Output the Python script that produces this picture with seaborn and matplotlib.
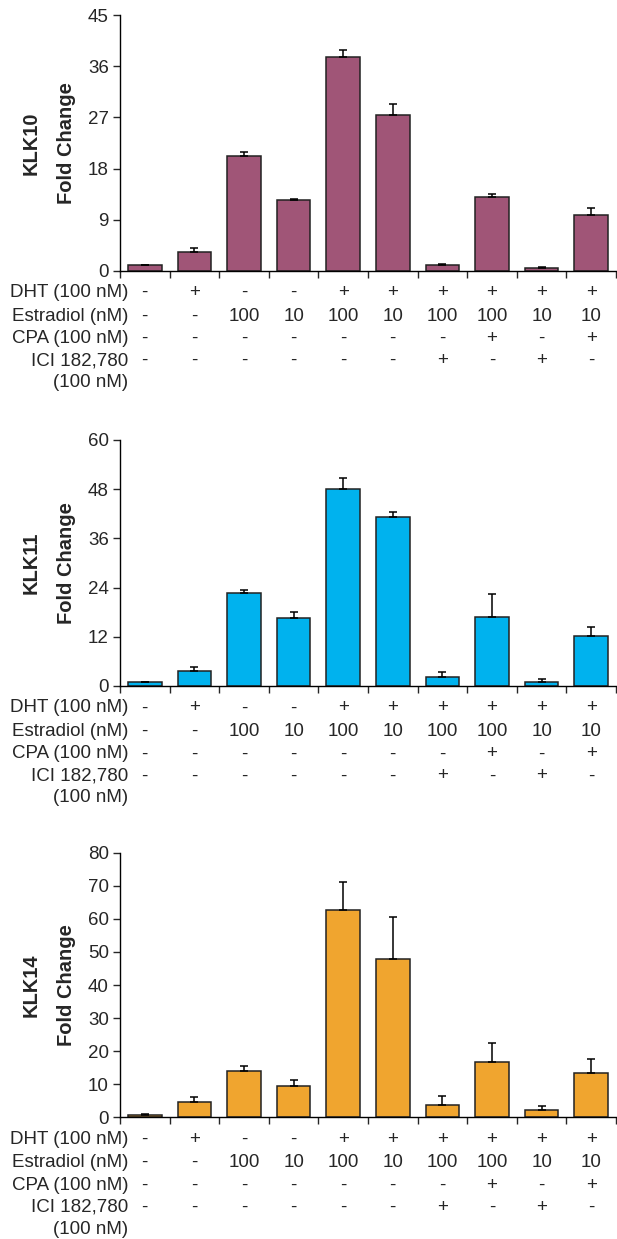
#!/usr/bin/env python3
"""KLK10 / KLK11 / KLK14 fold change under hormone treatments (three stacked bar panels)."""

import numpy as np
import matplotlib
matplotlib.use("Agg")
import matplotlib.pyplot as plt
import seaborn as sns

# treatment table (one column per bar)
conditions = [str(i) for i in range(1, 11)]
row_labels = ["DHT (100 nM)", "Estradiol (nM)", "CPA (100 nM)", "ICI 182,780", "(100 nM)"]
dht = ["-", "+", "-", "-", "+", "+", "+", "+", "+", "+"]
estradiol = ["-", "-", "100", "10", "100", "10", "100", "100", "10", "10"]
cpa = ["-", "-", "-", "-", "-", "-", "-", "+", "-", "+"]
ici = ["-", "-", "-", "-", "-", "-", "+", "-", "+", "-"]

# KLK10
klk10_mean = [1.0, 3.3, 20.2, 12.4, 37.6, 27.4, 1.0, 12.9, 0.5, 9.9]
klk10_err = [0.05, 0.7, 0.7, 0.2, 1.3, 2.0, 0.2, 0.7, 0.2, 1.2]
# KLK11
klk11_mean = [0.9, 3.7, 22.8, 16.5, 48.0, 41.2, 2.3, 16.9, 0.9, 12.3]
klk11_err = [0.05, 1.0, 0.5, 1.6, 2.8, 1.2, 1.0, 5.5, 0.7, 2.2]
# KLK14
klk14_mean = [0.8, 4.5, 14.1, 9.5, 62.6, 48.0, 3.7, 16.7, 2.2, 13.5]
klk14_err = [0.1, 1.5, 1.4, 1.8, 8.5, 12.6, 2.7, 5.9, 1.2, 4.1]

panels = [
    ("KLK10", klk10_mean, klk10_err, "#A05577", 45, 9),
    ("KLK11", klk11_mean, klk11_err, "#00B2EE", 60, 12),
    ("KLK14", klk14_mean, klk14_err, "#F0A52F", 80, 10),
]

# axes placement in pixels (figure is 617 x 1239)
W, H = 617, 1239
ax_left, ax_right = 120, 616
ax_spans = [(15.3, 270.7), (440, 686), (852.7, 1117.3)]  # (top px, bottom px)
row_offsets = [22, 45.5, 68, 90, 112]

sns.set_style("white")
plt.rcParams["font.family"] = ["Liberation Sans", "DejaVu Sans"]

fig = plt.figure(figsize=(W / 100, H / 100), dpi=100)

for (name, mean, err, color, ymax, ystep), (top, bottom) in zip(panels, ax_spans):
    ax = fig.add_axes([ax_left / W, 1 - bottom / H, (ax_right - ax_left) / W, (bottom - top) / H])
    sns.barplot(x=conditions, y=mean, color=color, saturation=1, width=0.68,
                edgecolor="#222222", linewidth=1.1, ax=ax, zorder=2)
    ax.errorbar(np.arange(len(mean)), mean, yerr=[np.zeros(len(err)), err], fmt="none",
                ecolor="black", elinewidth=1.1, capsize=3.2, capthick=1.1, zorder=3)

    ax.set_xlim(-0.5, len(conditions) - 0.5)
    ax.set_ylim(0, ymax)
    ax.set_yticks(np.arange(0, ymax + 1, ystep))
    ax.set_xticks(np.arange(-0.5, len(conditions), 1.0))
    ax.set_xticklabels([])
    ax.tick_params(axis="y", direction="out", length=5, width=1, pad=3, labelsize=13.5, left=True)
    ax.tick_params(axis="x", direction="out", length=5, width=1, bottom=True)
    for side in ["top", "right"]:
        ax.spines[side].set_visible(False)
    for side in ["left", "bottom"]:
        ax.spines[side].set_color("black")
        ax.spines[side].set_linewidth(1)
    ax.set_xlabel("")
    ax.set_ylabel("")

    ymid = 1 - (top + bottom) / 2 / H
    fig.text(31 / W, ymid, name, rotation=90, ha="center", va="center",
             fontsize=14.5, fontweight="bold")
    fig.text(66 / W, ymid, "Fold Change", rotation=90, ha="center", va="center",
             fontsize=14.5, fontweight="bold")

    # treatment table under the axis
    for label, off in zip(row_labels, row_offsets):
        fig.text(128 / W, 1 - (bottom + off) / H, label, ha="right", va="center", fontsize=13.5)
    for values, off in zip([dht, estradiol, cpa, ici], row_offsets):
        yfig = 1 - (bottom + off) / H
        yax = (ax.transAxes.inverted().transform(fig.transFigure.transform((0, yfig))))[1]
        for i, v in enumerate(values):
            ax.text(i, yax, v, transform=ax.get_xaxis_transform(), ha="center", va="center",
                    fontsize=13.5, clip_on=False)

fig.savefig("out.png", dpi=100)
